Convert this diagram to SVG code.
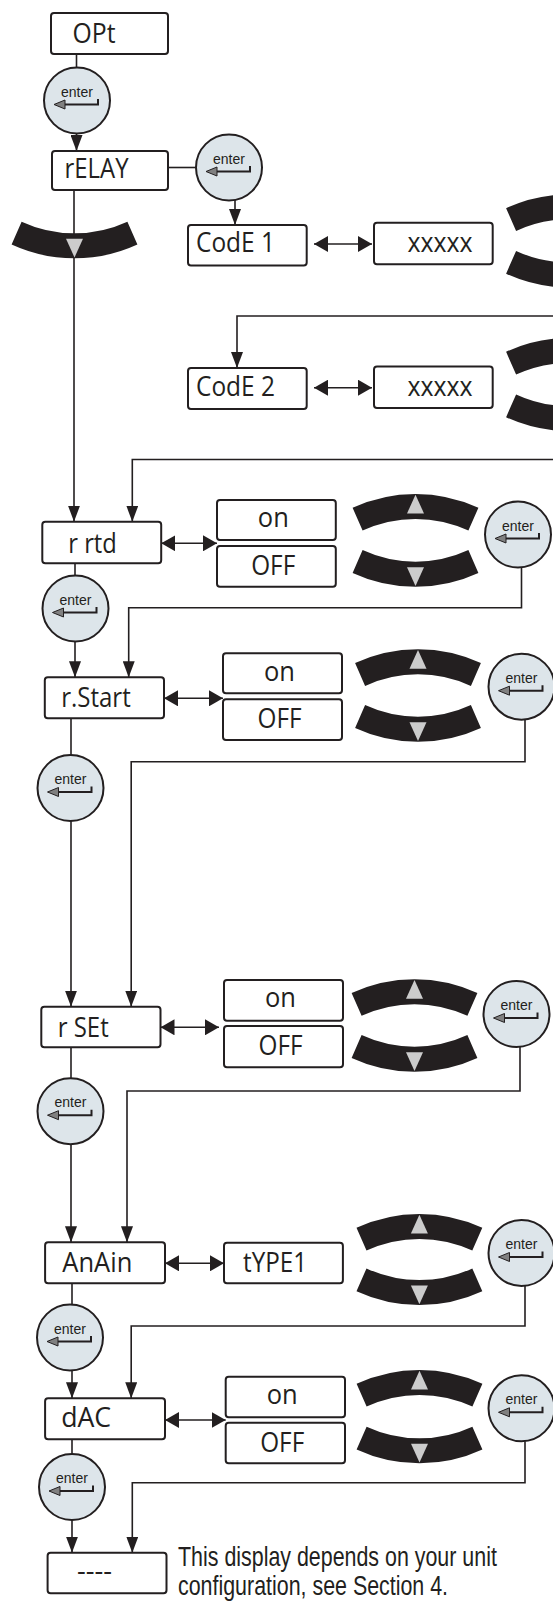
<svg xmlns="http://www.w3.org/2000/svg" width="553" height="1602" viewBox="0 0 553 1602">
<style>
.box{fill:#fff;stroke:#231f20;stroke-width:2}
.lbl{font-family:"Open Sans","DejaVu Sans",sans-serif;font-size:27px;fill:#231f20}
.note{font-family:"Liberation Sans",Arial,sans-serif;font-size:27.5px;fill:#231f20}
.btn circle{fill:#dde5ea;stroke:#231f20;stroke-width:2}
.btn text{font-family:"Liberation Sans",Arial,sans-serif;font-size:14px;fill:#231f20;text-anchor:middle}
.btn path{fill:none;stroke:#231f20;stroke-width:2}
.btn polygon{fill:#808080;stroke:#231f20;stroke-width:1}
.wire path{fill:none;stroke:#231f20;stroke-width:1.6}
</style>
<defs>
<marker id="ah" markerUnits="userSpaceOnUse" viewBox="0 0 16 12" refX="16" refY="6" markerWidth="16" markerHeight="12" orient="auto"><path d="M0,0 L16,6 L0,12 Z" fill="#231f20"/></marker>
<marker id="dh" markerUnits="userSpaceOnUse" viewBox="0 0 14 16" refX="14" refY="8" markerWidth="14" markerHeight="16" orient="auto-start-reverse"><path d="M0,0 L14,8 L0,16 Z" fill="#231f20"/></marker>
<g id="arcU"><path fill="#231f20" d="M-62.9,13.8 A150,150 0 0 1 62.9,13.8 L52.9,36.6 A126,126 0 0 0 -52.9,36.6 Z"/><polygon fill="#cccccc" points="0,0.8 8.5,19.5 -8.5,19.5"/></g>
<g id="arcD"><path fill="#231f20" d="M-62.9,-13.8 A150,150 0 0 0 62.9,-13.8 L52.9,-36.6 A126,126 0 0 1 -52.9,-36.6 Z"/><polygon fill="#cccccc" points="0,-0.8 8.5,-19.5 -8.5,-19.5"/></g>
</defs>
<rect width="553" height="1602" fill="#fff"/>

<g id="connectors" class="wire">
<path d="M76.5,54 V68"/>
<path d="M76.5,133.5 V151" marker-end="url(#ah)"/>
<path d="M168,167.5 H196"/>
<path d="M235,200 V225" marker-end="url(#ah)"/>
<path d="M314,244 H372" marker-start="url(#dh)" marker-end="url(#dh)"/>
<path d="M553,316 H237 V368" marker-end="url(#ah)"/>
<path d="M314,387.7 H372" marker-start="url(#dh)" marker-end="url(#dh)"/>
<path d="M553,459.5 H132.3 V521.7" marker-end="url(#ah)"/>
<path d="M74,190 V521.7" marker-end="url(#ah)"/>
<path d="M161.2,543.3 H217" marker-start="url(#dh)" marker-end="url(#dh)"/>
<path d="M75,563.3 V575.5"/>
<path d="M75,641.5 V677.3" marker-end="url(#ah)"/>
<path d="M521.5,567.5 V607.7 H128.7 V677.3" marker-end="url(#ah)"/>
<path d="M164,698.3 H223" marker-start="url(#dh)" marker-end="url(#dh)"/>
<path d="M71,718.3 V755"/>
<path d="M71,821 V1006.7" marker-end="url(#ah)"/>
<path d="M525,719.5 V761.7 H131.2 V1006.7" marker-end="url(#ah)"/>
<path d="M160.5,1027.3 H219" marker-start="url(#dh)" marker-end="url(#dh)"/>
<path d="M71,1047.3 V1078.2"/>
<path d="M71,1144.2 V1242.3" marker-end="url(#ah)"/>
<path d="M520,1047 V1091 H127 V1242.3" marker-end="url(#ah)"/>
<path d="M165,1263.3 H224" marker-start="url(#dh)" marker-end="url(#dh)"/>
<path d="M72,1283.3 V1304.5"/>
<path d="M72,1370.5 V1398.3" marker-end="url(#ah)"/>
<path d="M525,1286 V1326 H131.2 V1398.3" marker-end="url(#ah)"/>
<path d="M165,1420 H225.7" marker-start="url(#dh)" marker-end="url(#dh)"/>
<path d="M72,1439.3 V1454"/>
<path d="M72,1520 V1552.7" marker-end="url(#ah)"/>
<path d="M525,1441.3 V1482.7 H132.3 V1552.7" marker-end="url(#ah)"/>
</g>

<g id="opt"><rect class="box" x="51" y="13" width="117" height="41" rx="3"/><text class="lbl" x="72.5" y="43.3" textLength="43" lengthAdjust="spacingAndGlyphs">OPt</text></g>
<g id="enter-1" class="btn" transform="translate(77,100.5)"><circle r="33"/><text y="-4">enter</text><path d="M-13,4 H21 V-1.5"/><polygon points="-23,4 -12,-0.5 -12,8.5"/></g>
<g id="relay"><rect class="box" x="52" y="151" width="116" height="39" rx="3"/><text class="lbl" x="64.5" y="177.7" textLength="64" lengthAdjust="spacingAndGlyphs">rELAY</text></g>
<g id="enter-2" class="btn" transform="translate(229,167.5)"><circle r="33"/><text y="-4">enter</text><path d="M-13,4 H21 V-1.5"/><polygon points="-23,4 -12,-0.5 -12,8.5"/></g>
<g id="scroll-relay"><use href="#arcD" x="74.5" y="258.3"/></g>

<g id="code1"><rect class="box" x="188" y="225" width="118.7" height="40.5" rx="3"/><text class="lbl" x="196" y="251.7" textLength="79" lengthAdjust="spacingAndGlyphs">CodE 1</text></g>
<g id="code1-value"><rect class="box" x="374" y="222.7" width="118.7" height="41.6" rx="3"/><text class="lbl" x="407.5" y="251.7" textLength="65" lengthAdjust="spacingAndGlyphs">xxxxx</text></g>
<g id="code1-scroll"><use href="#arcU" x="569" y="194.4"/><use href="#arcD" x="569" y="287.5"/></g>

<g id="code2"><rect class="box" x="188" y="368" width="118.7" height="41" rx="3"/><text class="lbl" x="196" y="395.5" textLength="79" lengthAdjust="spacingAndGlyphs">CodE 2</text></g>
<g id="code2-value"><rect class="box" x="374" y="366.5" width="118.7" height="41.5" rx="3"/><text class="lbl" x="407.5" y="396" textLength="65" lengthAdjust="spacingAndGlyphs">xxxxx</text></g>
<g id="code2-scroll"><use href="#arcU" x="569" y="338"/><use href="#arcD" x="569" y="431"/></g>

<g id="rrtd"><rect class="box" x="42.3" y="521.7" width="118.9" height="41.6" rx="3"/><text class="lbl" x="68.3" y="553.3" textLength="48.5" lengthAdjust="spacingAndGlyphs">r rtd</text></g>
<g id="rrtd-on"><rect class="box" x="217" y="500" width="118.8" height="40" rx="3"/><text class="lbl" x="257.8" y="527.3" textLength="31" lengthAdjust="spacingAndGlyphs">on</text></g>
<g id="rrtd-off"><rect class="box" x="217" y="546" width="118.8" height="40.7" rx="3"/><text class="lbl" x="251.2" y="575" textLength="44" lengthAdjust="spacingAndGlyphs">OFF</text></g>
<g id="rrtd-scroll"><use href="#arcU" x="415.5" y="494"/><use href="#arcD" x="415.5" y="586.7"/></g>
<g id="enter-rrtd" class="btn" transform="translate(518,534.5)"><circle r="33"/><text y="-4">enter</text><path d="M-13,4 H21 V-1.5"/><polygon points="-23,4 -12,-0.5 -12,8.5"/></g>
<g id="enter-3" class="btn" transform="translate(75.5,608.5)"><circle r="33"/><text y="-4">enter</text><path d="M-13,4 H21 V-1.5"/><polygon points="-23,4 -12,-0.5 -12,8.5"/></g>

<g id="rstart"><rect class="box" x="44.8" y="677.3" width="119.2" height="41" rx="3"/><text class="lbl" x="61.2" y="706.7" textLength="69.5" lengthAdjust="spacingAndGlyphs">r.Start</text></g>
<g id="rstart-on"><rect class="box" x="223" y="653.3" width="119" height="40" rx="3"/><text class="lbl" x="264" y="680.7" textLength="31" lengthAdjust="spacingAndGlyphs">on</text></g>
<g id="rstart-off"><rect class="box" x="223" y="699.3" width="119" height="40.7" rx="3"/><text class="lbl" x="257.5" y="728.3" textLength="44" lengthAdjust="spacingAndGlyphs">OFF</text></g>
<g id="rstart-scroll"><use href="#arcU" x="418" y="649.3"/><use href="#arcD" x="418" y="741.7"/></g>
<g id="enter-rstart" class="btn" transform="translate(521.5,686.7)"><circle r="33"/><text y="-4">enter</text><path d="M-13,4 H21 V-1.5"/><polygon points="-23,4 -12,-0.5 -12,8.5"/></g>
<g id="enter-4" class="btn" transform="translate(70.5,788)"><circle r="33"/><text y="-4">enter</text><path d="M-13,4 H21 V-1.5"/><polygon points="-23,4 -12,-0.5 -12,8.5"/></g>

<g id="rset"><rect class="box" x="41.3" y="1006.7" width="119.2" height="40.6" rx="3"/><text class="lbl" x="57.7" y="1036.7" textLength="51" lengthAdjust="spacingAndGlyphs">r SEt</text></g>
<g id="rset-on"><rect class="box" x="224" y="980" width="119" height="40.7" rx="3"/><text class="lbl" x="265" y="1007.4" textLength="31" lengthAdjust="spacingAndGlyphs">on</text></g>
<g id="rset-off"><rect class="box" x="224" y="1026" width="119" height="41.3" rx="3"/><text class="lbl" x="258.5" y="1055" textLength="44" lengthAdjust="spacingAndGlyphs">OFF</text></g>
<g id="rset-scroll"><use href="#arcU" x="414.5" y="979.2"/><use href="#arcD" x="414.5" y="1071.7"/></g>
<g id="enter-rset" class="btn" transform="translate(516.5,1014)"><circle r="33"/><text y="-4">enter</text><path d="M-13,4 H21 V-1.5"/><polygon points="-23,4 -12,-0.5 -12,8.5"/></g>
<g id="enter-5" class="btn" transform="translate(70.5,1111.2)"><circle r="33"/><text y="-4">enter</text><path d="M-13,4 H21 V-1.5"/><polygon points="-23,4 -12,-0.5 -12,8.5"/></g>

<g id="anain"><rect class="box" x="45.1" y="1242.3" width="119.9" height="41" rx="3"/><text class="lbl" x="62.3" y="1271.7" textLength="70" lengthAdjust="spacingAndGlyphs">AnAin</text></g>
<g id="anain-type"><rect class="box" x="224" y="1242.7" width="118.9" height="40.6" rx="3"/><text class="lbl" x="243" y="1271.7" textLength="64" lengthAdjust="spacingAndGlyphs">tYPE1</text></g>
<g id="anain-scroll"><use href="#arcU" x="419.4" y="1214"/><use href="#arcD" x="419.4" y="1305"/></g>
<g id="enter-anain" class="btn" transform="translate(521.5,1253)"><circle r="33"/><text y="-4">enter</text><path d="M-13,4 H21 V-1.5"/><polygon points="-23,4 -12,-0.5 -12,8.5"/></g>
<g id="enter-6" class="btn" transform="translate(70,1337.5)"><circle r="33"/><text y="-4">enter</text><path d="M-13,4 H21 V-1.5"/><polygon points="-23,4 -12,-0.5 -12,8.5"/></g>

<g id="dac"><rect class="box" x="45.1" y="1398.3" width="119.9" height="41" rx="3"/><text class="lbl" x="61.2" y="1427.3" textLength="50" lengthAdjust="spacingAndGlyphs">dAC</text></g>
<g id="dac-on"><rect class="box" x="225.7" y="1376.7" width="119.3" height="40.6" rx="3"/><text class="lbl" x="266.7" y="1404" textLength="31" lengthAdjust="spacingAndGlyphs">on</text></g>
<g id="dac-off"><rect class="box" x="225.7" y="1422.7" width="119.3" height="40.6" rx="3"/><text class="lbl" x="260.2" y="1451.7" textLength="44" lengthAdjust="spacingAndGlyphs">OFF</text></g>
<g id="dac-scroll"><use href="#arcU" x="419.5" y="1370"/><use href="#arcD" x="419.5" y="1463.3"/></g>
<g id="enter-dac" class="btn" transform="translate(521.5,1408.3)"><circle r="33"/><text y="-4">enter</text><path d="M-13,4 H21 V-1.5"/><polygon points="-23,4 -12,-0.5 -12,8.5"/></g>
<g id="enter-7" class="btn" transform="translate(72,1487)"><circle r="33"/><text y="-4">enter</text><path d="M-13,4 H21 V-1.5"/><polygon points="-23,4 -12,-0.5 -12,8.5"/></g>

<g id="final"><rect class="box" x="47.6" y="1552.7" width="118.9" height="40.6" rx="3"/><text class="lbl" x="77" y="1580" textLength="35" lengthAdjust="spacingAndGlyphs">----</text></g>
<g id="note"><text class="note" transform="matrix(0.779 0 0 1 178 1565.5)">This display depends on your unit</text><text class="note" transform="matrix(0.779 0 0 1 178 1594.5)">configuration, see Section 4.</text></g>
</svg>
